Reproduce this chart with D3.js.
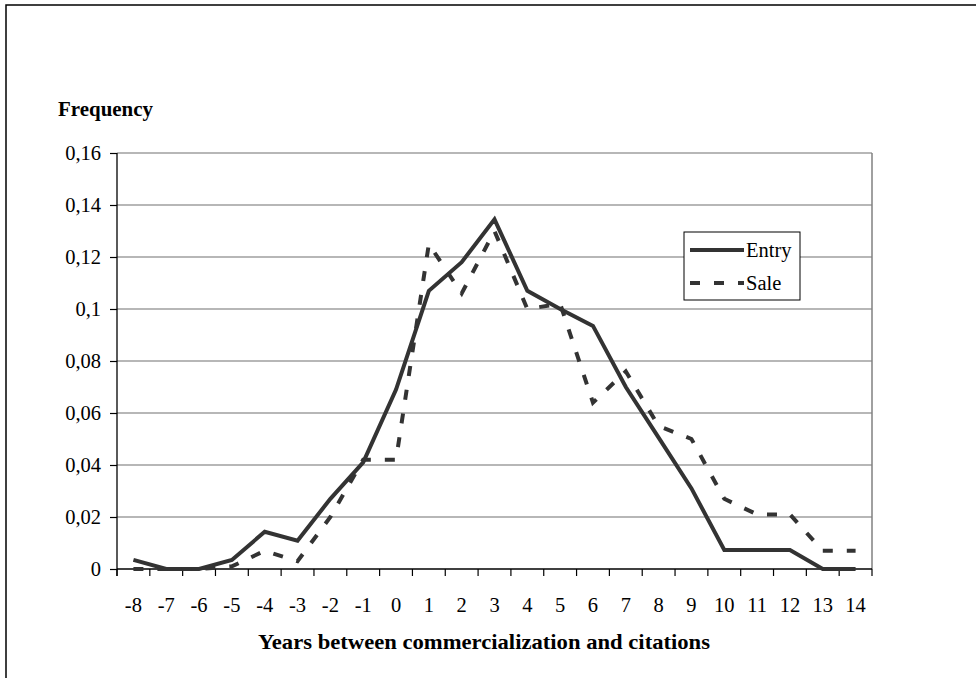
<!DOCTYPE html>
<html><head><meta charset="utf-8">
<script src="https://cdn.jsdelivr.net/npm/d3@7"></script>
<style>body{margin:0;background:#fff}svg{display:block}</style>
</head><body>
<svg id="c" width="976" height="678"></svg>
<script>
const categories = [-8,-7,-6,-5,-4,-3,-2,-1,0,1,2,3,4,5,6,7,8,9,10,11,12,13,14];
const entryValues = [0.0035,0,0,0.0035,0.0143,0.0109,0.027,0.041,0.069,0.107,0.118,0.1345,0.107,0.1,0.0935,0.07,0.0505,0.031,0.0073,0.0073,0.0073,0,0];
const saleValues  = [0,0,0,0.001,0.007,0.003,0.02,0.042,0.042,0.125,0.106,0.13,0.1,0.102,0.064,0.076,0.055,0.05,0.027,0.021,0.021,0.007,0.007];
const yTickValues = [0,0.02,0.04,0.06,0.08,0.1,0.12,0.14,0.16];
const yTickLabels = ["0","0,02","0,04","0,06","0,08","0,1","0,12","0,14","0,16"];
const seriesNames = ["Entry","Sale"];
const yTitle = "Frequency";
const xTitle = "Years between commercialization and citations";

const svg = d3.select("#c");
const L=117, R=872, T=153, B=569;
const font = "'Liberation Serif','Times New Roman',serif";

// outer frame
svg.append("rect").attr("x",6).attr("y",5).attr("width",1000).attr("height",700)
  .attr("fill","none").attr("stroke","#000").attr("stroke-width",1.5);

const x = d3.scaleBand().domain(categories).range([L,R]).padding(0);
const y = d3.scaleLinear().domain([0,0.16]).range([B,T]);
const cx = d => x(d)+x.bandwidth()/2;

// gridlines
svg.append("g").selectAll("line").data(yTickValues.filter(v=>v>0)).join("line")
  .attr("x1",L).attr("x2",R).attr("y1",d=>y(d)).attr("y2",d=>y(d))
  .attr("stroke","#707070").attr("stroke-width",1.2);
// right border
svg.append("line").attr("x1",R).attr("x2",R).attr("y1",T).attr("y2",B)
  .attr("stroke","#808080").attr("stroke-width",1.5);

// y axis
const ya = svg.append("g").attr("transform",`translate(${L},0)`)
  .call(d3.axisLeft(y).tickValues(yTickValues).tickSize(7).tickPadding(9)
    .tickFormat((d,i)=>yTickLabels[i]));
ya.select(".domain").attr("stroke","#000").attr("stroke-width",1.3).attr("d",`M0,${T}V${B+7}`);
ya.selectAll(".tick line").attr("stroke","#000").attr("stroke-width",1.2);
ya.selectAll("text").attr("font-family",font).attr("font-size",20.5).attr("fill","#000");

// x axis
const boundaries = categories.map(c=>x(c)).concat([R]);
const xg = svg.append("g");
xg.append("line").attr("x1",L).attr("x2",R).attr("y1",B).attr("y2",B).attr("stroke","#000").attr("stroke-width",1.3);
xg.selectAll("line.t").data(boundaries).join("line").attr("class","t")
  .attr("x1",d=>d).attr("x2",d=>d).attr("y1",B).attr("y2",B+7).attr("stroke","#000").attr("stroke-width",1.2);
xg.selectAll("text").data(categories).join("text")
  .attr("x",d=>cx(d)).attr("y",612).attr("text-anchor","middle")
  .attr("font-family",font).attr("font-size",20.5).attr("fill","#000").text(d=>d);

// titles
svg.append("text").attr("x",58).attr("y",116).attr("font-family",font).attr("font-weight","bold")
  .attr("font-size",21).attr("textLength",95).attr("lengthAdjust","spacingAndGlyphs").text(yTitle);
svg.append("text").attr("x",258).attr("y",649).attr("font-family",font).attr("font-weight","bold")
  .attr("font-size",21).attr("textLength",452).attr("lengthAdjust","spacingAndGlyphs").text(xTitle);

// lines
const line = d3.line().x((d,i)=>cx(categories[i])).y(d=>y(d));
svg.append("path").datum(entryValues).attr("d",line).attr("fill","none")
  .attr("stroke","#333").attr("stroke-width",4).attr("stroke-linejoin","miter");
svg.append("path").datum(saleValues).attr("d",line).attr("fill","none")
  .attr("stroke","#333").attr("stroke-width",4).attr("stroke-dasharray","10,14");

// legend
const lg = svg.append("g");
lg.append("rect").attr("x",684).attr("y",232).attr("width",116).attr("height",68)
  .attr("fill","#fff").attr("stroke","#000").attr("stroke-width",1);
const ly = [250,283];
lg.selectAll("line").data(seriesNames).join("line")
  .attr("x1",690).attr("x2",744).attr("y1",(d,i)=>ly[i]).attr("y2",(d,i)=>ly[i])
  .attr("stroke","#333").attr("stroke-width",4)
  .attr("stroke-dasharray",(d,i)=>i? "10,14":null);
lg.selectAll("text").data(seriesNames).join("text")
  .attr("x",746).attr("y",(d,i)=>ly[i]+7).attr("font-family",font).attr("font-size",20.5).text(d=>d);
</script>
</body></html>
